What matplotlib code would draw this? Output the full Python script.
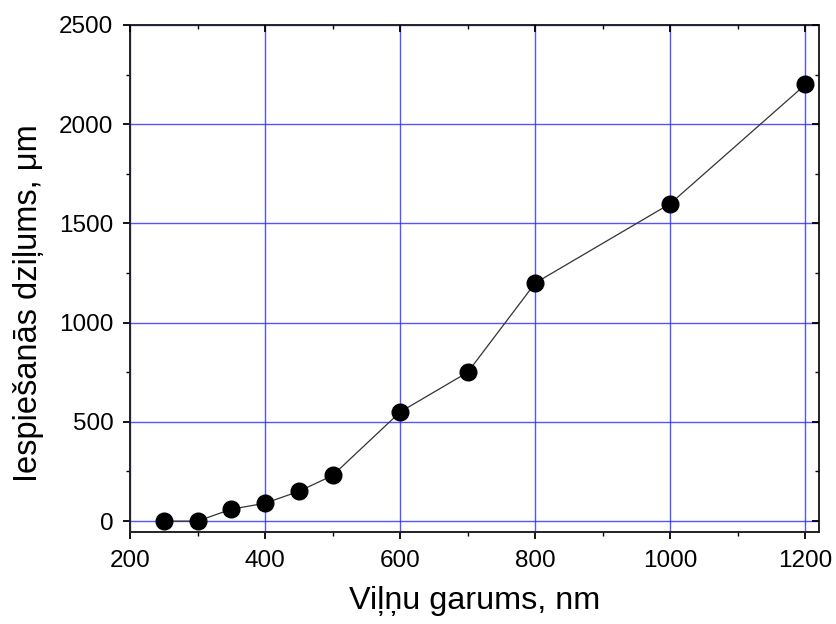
import matplotlib
matplotlib.use("Agg")
import matplotlib.pyplot as plt
from matplotlib.ticker import MultipleLocator

# data
wavelength_nm = [250, 300, 350, 400, 450, 500, 600, 700, 800, 1000, 1200]
depth_um = [0, 0, 60, 90, 150, 230, 550, 750, 1200, 1600, 2200]

XLIM = (200, 1220)
YLIM = (-55, 2500)

plt.rcParams['font.family'] = ['Liberation Sans', 'DejaVu Sans']

fig = plt.figure(figsize=(8.37, 6.24), dpi=100)
ax = fig.add_axes([0.1553, 0.1474, 0.8232, 0.8126])

ax.plot(wavelength_nm, depth_um, color='#333333', lw=0.9, marker='o',
        markersize=12, markerfacecolor='black', markeredgecolor='black', zorder=3)

ax.set_xlim(*XLIM)
ax.set_ylim(*YLIM)
ax.xaxis.set_major_locator(MultipleLocator(200))
ax.xaxis.set_minor_locator(MultipleLocator(100))
ax.yaxis.set_major_locator(MultipleLocator(500))
ax.yaxis.set_minor_locator(MultipleLocator(250))

ax.grid(True, which='major', color='#2b2bff', lw=1.0, alpha=0.8)
ax.set_axisbelow(True)

for s in ax.spines.values():
    s.set_linewidth(1.4)
    s.set_color('#222222')

ax.tick_params(axis='both', which='major', labelsize=17.5, length=5, width=1.3, direction='out')
ax.tick_params(axis='both', which='minor', length=3, width=1.0, direction='out')
ax.tick_params(axis='x', which='major', pad=8)
ax.tick_params(axis='y', which='major', pad=7)

# top and right axes: inward ticks, no labels
axt = ax.twiny()
axt.set_xlim(*XLIM)
axt.xaxis.set_major_locator(MultipleLocator(200))
axt.xaxis.set_minor_locator(MultipleLocator(100))
axt.tick_params(axis='x', which='major', direction='in', length=5, width=1.3, labeltop=False)
axt.tick_params(axis='x', which='minor', direction='in', length=3, width=1.0)
axr = ax.twinx()
axr.set_ylim(*YLIM)
axr.yaxis.set_major_locator(MultipleLocator(500))
axr.yaxis.set_minor_locator(MultipleLocator(250))
axr.tick_params(axis='y', which='major', direction='in', length=5, width=1.3, labelright=False)
axr.tick_params(axis='y', which='minor', direction='in', length=3, width=1.0)
for a in (axt, axr):
    for s in a.spines.values():
        s.set_visible(False)

ax.set_xlabel('Viļņu garums, nm', fontsize=23.3, labelpad=10)
ax.set_ylabel('Iespiešanās dziļums, μm', fontsize=23.5)
ax.yaxis.set_label_coords(-0.125, 0.452)

fig.savefig('out.png', dpi=100)
